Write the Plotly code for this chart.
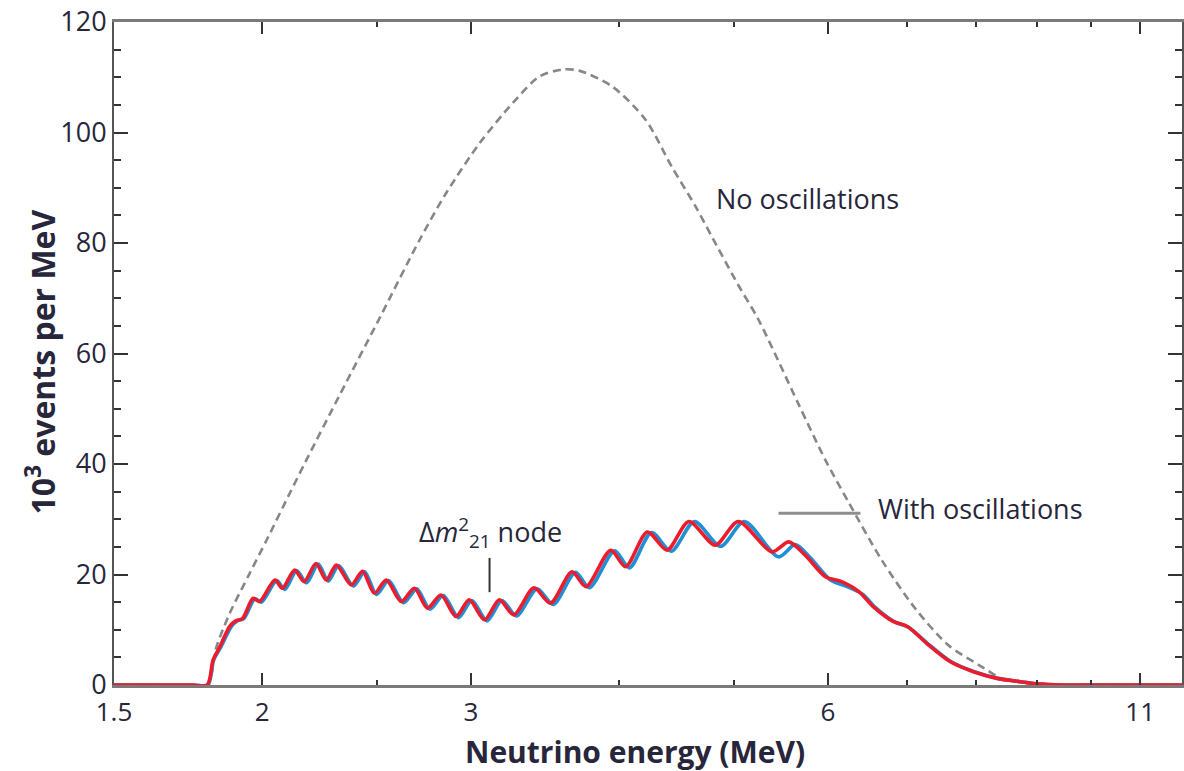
import math
import plotly.graph_objects as go

# Reactor antineutrino spectrum (10^3 events per MeV) vs neutrino energy (MeV)
energy_no_osc = [1.5, 1.65, 1.795, 1.83, 1.878, 1.952, 2.017, 2.11, 2.179, 2.325, 2.512, 2.714,
                 2.858, 3.049, 3.252, 3.424, 3.58, 3.70, 3.948, 4.21, 4.43, 4.64, 4.79,
                 5.04, 5.24, 5.67, 5.97, 6.24, 6.66, 7.11, 7.58, 8.09, 8.40, 8.85, 9.2, 10.5, 12.0]
events_no_osc = [0, 0, 0, 6.9, 13.0, 20.2, 26.2, 34.7, 40.7, 52.5, 66.4, 80.5,
                 89.0, 98.0, 105.3, 110.1, 111.4, 111.2, 108.3, 102.3, 93.8, 86.6, 81.1,
                 72.4, 66.2, 50.7, 40.7, 33.2, 22.6, 13.8, 7.2, 3.3, 1.2, 0.3, 0, 0, 0]

# Normal-ordering oscillated spectrum (red)
energy_red = [1.5, 1.65, 1.75, 1.798, 1.818, 1.842, 1.878, 1.90, 1.925, 1.965, 1.99, 2.05, 2.08, 2.13,
              2.17, 2.22, 2.265, 2.31, 2.378, 2.43, 2.487, 2.545, 2.62, 2.688, 2.757,
              2.83, 2.914, 2.99, 3.08, 3.17, 3.26, 3.39, 3.50, 3.65, 3.75, 3.935, 4.05,
              4.225, 4.39, 4.58, 4.82, 5.04, 5.38, 5.56, 5.74, 5.97, 6.16, 6.37, 6.55,
              6.81, 7.0, 7.27, 7.61, 7.96, 8.33, 8.71, 9.0, 9.5, 10.5, 12.0]
events_red = [0, 0, 0, 0, 4.5, 6.9, 10.6, 11.6, 12.0, 15.7, 15.1, 19.0, 17.5, 20.8,
              18.7, 22.0, 19.0, 21.7, 18.1, 20.6, 16.6, 19.0, 15.1, 17.5, 13.9,
              16.3, 12.4, 15.4, 11.8, 15.4, 12.7, 17.6, 14.8, 20.5, 17.8, 24.4, 21.4,
              27.7, 24.4, 29.6, 25.3, 29.6, 24.1, 25.9, 23.5, 19.6, 18.7, 16.9, 14.2,
              11.5, 10.6, 7.5, 4.2, 2.4, 1.2, 0.6, 0.2, 0, 0, 0]

# Inverted-ordering oscillated spectrum (blue)
energy_blue = [1.5, 1.65, 1.75, 1.80, 1.82, 1.846, 1.884, 1.905, 1.93, 1.972, 1.997, 2.057, 2.09, 2.138,
               2.18, 2.23, 2.274, 2.32, 2.388, 2.44, 2.497, 2.556, 2.632, 2.70, 2.77,
               2.843, 2.928, 3.005, 3.095, 3.186, 3.277, 3.41, 3.52, 3.675, 3.775, 3.965,
               4.08, 4.26, 4.425, 4.63, 4.87, 5.10, 5.45, 5.63, 5.80, 6.03, 6.23, 6.42,
               6.58, 6.83, 7.02, 7.29, 7.62, 7.97, 8.34, 8.72, 9.0, 9.5, 10.5, 12.0]
events_blue = [0, 0, 0, 0, 4.5, 6.9, 10.6, 11.6, 12.0, 15.6, 15.0, 18.9, 17.3, 20.7,
               18.5, 21.9, 18.8, 21.6, 17.9, 20.5, 16.4, 18.9, 14.9, 17.4, 13.7,
               16.2, 12.2, 15.3, 11.6, 15.3, 12.5, 17.4, 14.6, 20.4, 17.6, 24.3,
               21.2, 27.6, 24.2, 29.6, 25.1, 29.6, 23.2, 25.4, 23.0, 19.0, 17.8, 16.4,
               14.0, 11.4, 10.4, 7.4, 4.2, 2.4, 1.2, 0.6, 0.2, 0, 0, 0]

x_major = [1.5, 2, 3, 6, 11]
x_minor = [2.5, 4, 5, 7, 8, 9, 10]
y_major = [0, 20, 40, 60, 80, 100, 120]

TEXT = "#27263a"
FONT = "Open Sans"

fig = go.Figure()
fig.add_trace(go.Scatter(
    x=energy_no_osc, y=events_no_osc, mode="lines",
    line=dict(color="#878787", width=2.6, dash="8px,5px", shape="spline", smoothing=0.8),
    showlegend=False, hoverinfo="skip"))
fig.add_trace(go.Scatter(
    x=energy_blue, y=events_blue, mode="lines",
    line=dict(color="#1f8fd6", width=3.6, shape="spline", smoothing=0.8),
    showlegend=False))
fig.add_trace(go.Scatter(
    x=energy_red, y=events_red, mode="lines",
    line=dict(color="#ec1c2c", width=3.6, shape="spline", smoothing=0.8),
    showlegend=False))

lg = math.log10
ann_font = dict(size=27, color=TEXT, family=FONT)
fig.add_annotation(x=lg(4.81), y=88, text="No oscillations", showarrow=False,
                   xanchor="left", yanchor="middle", font=ann_font)
fig.add_annotation(x=lg(6.58), y=32, text="With oscillations", showarrow=False,
                   xanchor="left", yanchor="middle", font=ann_font)
fig.add_annotation(x=lg(2.699), y=27.6, text="Δ<i>m</i><sup>2</sup><sub>21</sub> node",
                   showarrow=False, xanchor="left", yanchor="middle", font=ann_font)

# Leader lines for the labels
fig.add_shape(type="line", xref="x", yref="y", x0=5.45, x1=6.39, y0=31.1, y1=31.1,
              line=dict(color="#8f8f8f", width=3), layer="above")
fig.add_shape(type="line", xref="x", yref="y", x0=3.11, x1=3.11, y0=16.8, y1=23.0,
              line=dict(color="#333333", width=2), layer="above")

# Axis titles
fig.add_annotation(xref="paper", yref="paper", x=0.488, y=-0.1,
                   text="<b>Neutrino energy (MeV)</b>", showarrow=False,
                   xanchor="center", yanchor="middle",
                   font=dict(size=30, color=TEXT, family=FONT))
fig.add_annotation(xref="paper", yref="paper", x=-0.069, y=0.487,
                   text="<b>10<sup>3</sup> events per MeV</b>", showarrow=False,
                   textangle=-90, xanchor="center", yanchor="middle",
                   font=dict(size=32, color=TEXT, family=FONT))

fig.update_xaxes(
    type="log", range=[lg(1.5), lg(11.93)],
    tickmode="array", tickvals=x_major, ticktext=[str(v) for v in x_major],
    ticks="inside", ticklen=12, tickwidth=2, tickcolor="#333333",
    minor=dict(tickvals=x_minor, ticks="inside", ticklen=5, tickwidth=2, tickcolor="#333333"),
    showline=True, linecolor="#7a7a7a", linewidth=2.5, mirror="ticks",
    showgrid=False, zeroline=False, ticklabelstandoff=2,
    tickfont=dict(size=26, color=TEXT, family=FONT))
fig.update_yaxes(
    range=[0, 120], tickmode="array", tickvals=y_major,
    ticks="inside", ticklen=14, tickwidth=2, tickcolor="#333333",
    minor=dict(dtick=5, tick0=0, ticks="inside", ticklen=7, tickwidth=2, tickcolor="#333333"),
    showline=True, linecolor="#555555", linewidth=2, mirror="ticks",
    showgrid=False, zeroline=False,
    tickfont=dict(size=27, color=TEXT, family=FONT))

fig.update_layout(
    width=1184, height=771,
    margin=dict(l=114, r=0, t=22, b=86),
    paper_bgcolor="white", plot_bgcolor="white",
    showlegend=False)

fig.write_html("out.html")
